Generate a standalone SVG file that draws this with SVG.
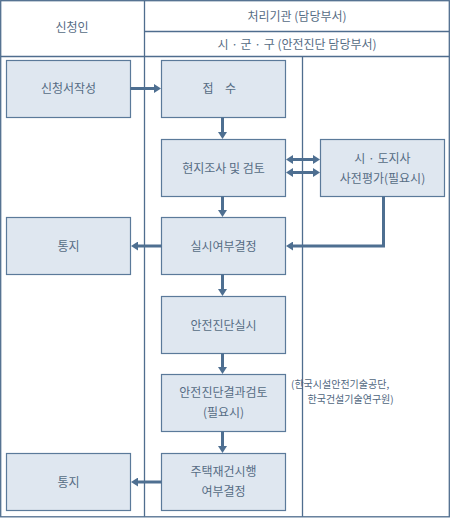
<svg xmlns="http://www.w3.org/2000/svg" width="450" height="518" viewBox="0 0 450 518">
<defs>
<style>
.grid{fill:none;stroke:#4f6d8e;stroke-width:1.3}
.box rect{fill:#dfe7f0;stroke:#5b7a9a;stroke-width:1.2}
text{font-family:"Noto Sans CJK KR","Noto Sans",sans-serif;font-size:12px;fill:#566c84;text-anchor:middle}
.small{font-size:10px;text-anchor:start;fill:#4f6680}
.conn path{fill:none;stroke:#4e6f91;stroke-width:3}
</style>
<marker id="ah" viewBox="0 0 7 9" refX="1" refY="4.5" markerWidth="7" markerHeight="9" markerUnits="userSpaceOnUse" orient="auto-start-reverse">
<path d="M0,0 L7,4.5 L0,9 z" fill="#4e6f91"/>
</marker>
</defs>
<rect width="450" height="518" fill="#ffffff"/>
<g id="grid" class="grid">
<rect x="0.7" y="0.7" width="448.6" height="516.1"/>
<line x1="144.5" y1="0.7" x2="144.5" y2="516.8"/>
<line x1="144.5" y1="31.5" x2="449.3" y2="31.5"/>
<line x1="0.7" y1="56.5" x2="449.3" y2="56.5"/>
<line x1="302.5" y1="56.5" x2="302.5" y2="516.8"/>
</g>
<g id="headers">
<text x="72" y="32">신청인</text>
<text x="297" y="21">처리기관 (담당부서)</text>
<text x="297" y="48.5">시 · 군 · 구 (안전진단 담당부서)</text>
</g>
<g id="n1" class="box"><rect x="6.5" y="60.5" width="124" height="57"/><text x="68.5" y="93">신청서작성</text></g>
<g id="n2" class="box"><rect x="161.5" y="60.5" width="124" height="57"/><text x="208" y="93">접</text><text x="230.5" y="93">수</text></g>
<g id="n3" class="box"><rect x="161.5" y="139.5" width="124" height="57"/><text x="223.5" y="172.5">현지조사 및 검토</text></g>
<g id="n4" class="box"><rect x="320.5" y="139.5" width="124" height="57"/><text x="382.5" y="163">시 · 도지사</text><text x="382.5" y="183">사전평가(필요시)</text></g>
<g id="n5" class="box"><rect x="161.5" y="217.5" width="124" height="57"/><text x="223.5" y="250.5">실시여부결정</text></g>
<g id="n6" class="box"><rect x="6.5" y="217.5" width="124" height="57"/><text x="68.5" y="250.5">통지</text></g>
<g id="n7" class="box"><rect x="161.5" y="296.5" width="124" height="57"/><text x="223.5" y="329.5">안전진단실시</text></g>
<g id="n8" class="box"><rect x="161.5" y="374.5" width="124" height="57"/><text x="223.5" y="397">안전진단결과검토</text><text x="223.5" y="417">(필요시)</text></g>
<g id="n9" class="box"><rect x="161.5" y="453.5" width="124" height="57"/><text x="223.5" y="475.5">주택재건시행</text><text x="223.5" y="496">여부결정</text></g>
<g id="n10" class="box"><rect x="6.5" y="453.5" width="124" height="57"/><text x="68.5" y="486.5">통지</text></g>
<g id="note">
<text class="small" x="291" y="388">(한국시설안전기술공단,</text>
<text class="small" x="307.5" y="403">한국건설기술연구원)</text>
</g>
<g id="connectors" class="conn">
<path d="M130.5,88.5 H155" marker-end="url(#ah)"/>
<path d="M222.5,117.5 V133" marker-end="url(#ah)"/>
<path d="M222.5,196.5 V211" marker-end="url(#ah)"/>
<path d="M222.5,274.5 V290" marker-end="url(#ah)"/>
<path d="M222.5,353.5 V368" marker-end="url(#ah)"/>
<path d="M222.5,431.5 V447" marker-end="url(#ah)"/>
<path d="M292,159.5 H314" marker-start="url(#ah)" marker-end="url(#ah)"/>
<path d="M292,172.5 H314" marker-start="url(#ah)" marker-end="url(#ah)"/>
<path d="M383.5,196.5 V246 H292" marker-end="url(#ah)"/>
<path d="M161.5,246 H137" marker-end="url(#ah)"/>
<path d="M161.5,482 H137" marker-end="url(#ah)"/>
</g>
</svg>
